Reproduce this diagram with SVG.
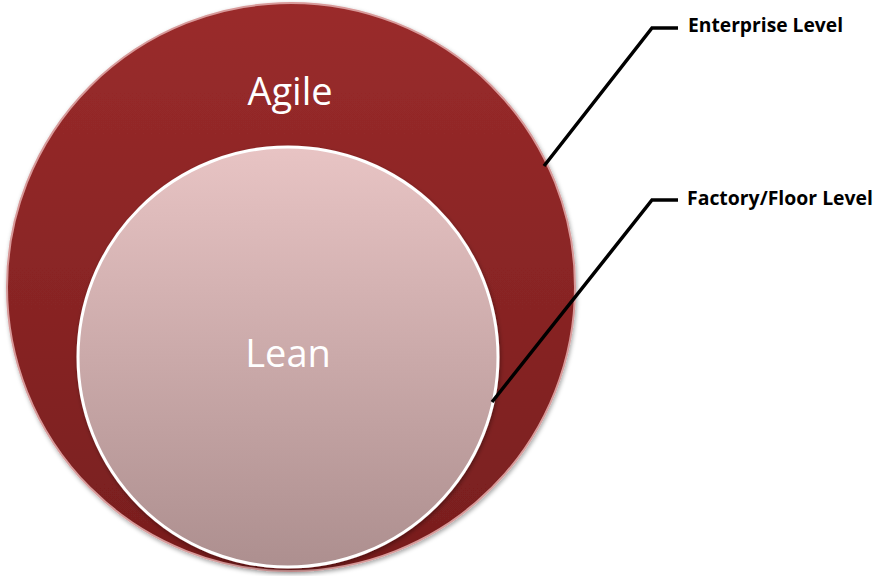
<svg xmlns="http://www.w3.org/2000/svg" width="882" height="576" viewBox="0 0 882 576">
<defs>
<linearGradient id="gOuter" x1="0" y1="0" x2="0" y2="1">
<stop offset="0" stop-color="#9a2b2b"/>
<stop offset="1" stop-color="#781e1e"/>
</linearGradient>
<linearGradient id="gInner" x1="0" y1="0" x2="0" y2="1">
<stop offset="0" stop-color="#e8c4c4"/>
<stop offset="1" stop-color="#ad8f8f"/>
</linearGradient>
<filter id="sh" x="-10%" y="-10%" width="120%" height="120%">
<feDropShadow dx="1" dy="2" stdDeviation="2" flood-color="#000" flood-opacity="0.35"/>
</filter>
</defs>
<style>
.lbl{font-family:"Open Sans","Liberation Sans",sans-serif;font-weight:bold;font-size:19px;fill:#000}
.big{font-family:"Open Sans","Liberation Sans",sans-serif;font-size:38px;fill:#fff;text-anchor:middle}
.conn{fill:none;stroke:#000;stroke-width:3.5;stroke-linejoin:miter}
</style>
<rect width="882" height="576" fill="#fff"/>
<g id="agile">
<circle cx="291" cy="287" r="284" fill="url(#gOuter)" stroke="#d89a9a" stroke-width="2" filter="url(#sh)"/>
<text class="big" x="290" y="105">Agile</text>
</g>
<g id="lean">
<circle cx="288" cy="357" r="210" fill="url(#gInner)" stroke="#fff" stroke-width="3" filter="url(#sh)"/>
<text class="big" x="288" y="367">Lean</text>
</g>
<g id="connectors">
<polyline class="conn" points="544,166 652,28 678,28"/>
<polyline class="conn" points="492,402 652,200 678,200"/>
</g>
<g id="label-enterprise">
<text class="lbl" x="688" y="32" textLength="155" lengthAdjust="spacingAndGlyphs">Enterprise Level</text>
</g>
<g id="label-factory">
<text class="lbl" x="687" y="205" textLength="186" lengthAdjust="spacingAndGlyphs">Factory/Floor Level</text>
</g>
</svg>
